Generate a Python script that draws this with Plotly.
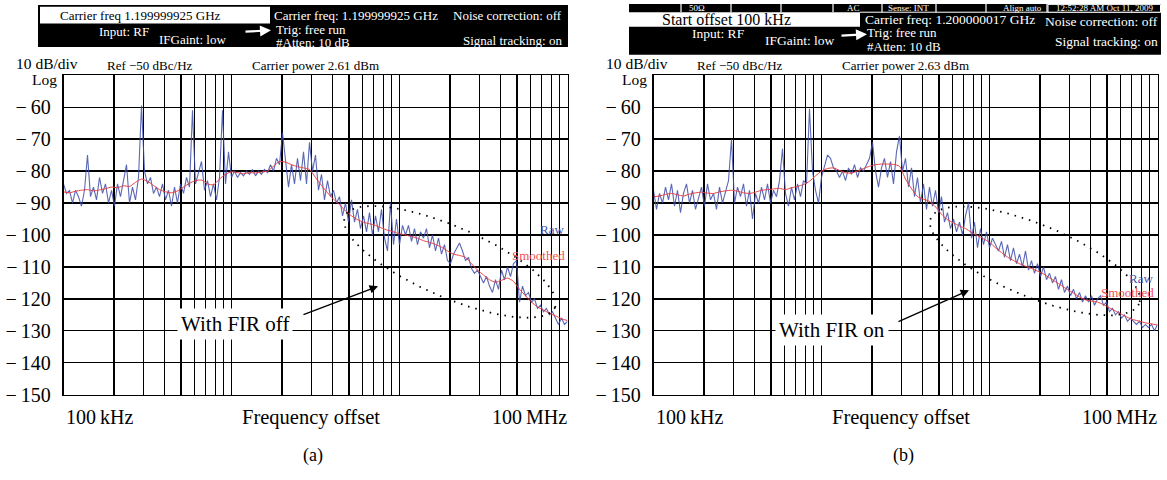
import numpy as np
import plotly.graph_objects as go

W, H = 1167, 480

# ---------------- data ----------------
# Panel (a): FIR off, raw trace (dBc/Hz), log-spaced sweep 100 kHz .. 100 MHz
raw_a = [-84, -87, -86, -90, -86, -88, -91, -86, -75,
         -88, -85, -89, -82, -87, -84, -90, -86,
         -91, -84, -88, -83, -78, -90, -85, -89, -82, -59.5, -80,
         -84, -82, -87, -85, -88, -84, -89, -86, -91, -85, -90, -84, -87, -82, -85,
         -61,
         -84, -80, -77, -86, -83, -88, -84, -89, -82,
         -61,
         -84, -74, -82,
         -80, -82, -80.5, -81.5, -80, -81, -79.5, -81.5, -80, -81, -79.5, -80.5, -78, -80, -76, -78,
         -68,
         -76, -85,
         -78, -84, -76, -83, -74, -84, -71, -80, -75, -86, -81, -89, -83, -88, -86, -90, -88, -94,
         -90, -96, -89, -96, -92, -98,
         -94, -99, -93, -100, -94, -99, -92, -101, -105, -90, -103, -95, -103, -97,
         -100, -97, -102, -98, -103, -99, -101, -98, -104, -100, -105, -101, -106, -103, -108,
         -109, -106, -104, -102.5, -105, -108, -107, -110.5, -112, -111, -113, -115, -113, -116,
         -118, -114, -117, -111, -114, -110, -113, -109, -108, -121, -116, -119, -118, -121,
         -120, -123, -122, -124, -123, -125, -124, -126, -128, -126, -128, -127]

smooth_a = [-86.5, -86.8, -86.3, -86.0, -85.8, -86.2, -85.9, -85.5, -85.0, -85.2,
            -84.6, -84.8, -83.5, -82.5, -83.2, -84.5, -85.8, -86.5, -86.8, -86.2,
            -85.0, -83.8, -83.0, -82.8, -84.0, -84.3, -82.5, -81.0, -80.2, -80.5,
            -80.8, -80.5, -80.6, -80.3, -80.0, -78.5, -77.0, -77.2, -78.0, -78.6,
            -79.0, -79.5, -82.0, -84.5, -86.8, -88.8, -90.5, -92.5, -94.0, -95.2,
            -96.0, -96.5, -97.0, -97.8, -98.5, -99.0, -99.6, -100.0, -100.5, -101.0,
            -101.8, -102.3, -103.0, -103.8, -105.0, -106.0, -106.4, -107.0, -109.0, -111.0,
            -112.5, -114.0, -114.8, -114.2, -113.5, -114.5, -117.0, -119.0, -121.0, -122.5,
            -123.5, -124.5, -125.3, -126.2, -126.8]

# Panel (b): FIR on
raw_b = [-86, -92, -87, -90, -85, -89, -84, -91, -86, -93, -87, -84, -90, -86, -92, -88,
         -85, -91, -84, -89, -87, -92, -85, -90, -86, -83,
         -70,
         -90, -85, -88, -84, -91, -86, -95, -87, -90, -85, -89, -84, -90, -86, -88, -83,
         -73,
         -87, -91, -85, -89, -84, -88, -83,
         -84, -60.5, -80, -86, -90, -82, -78, -75, -76, -79, -80, -82, -80, -83, -79, -81,
         -78, -82, -79, -80, -78, -76, -71, -80, -85, -79, -76, -82,
         -77, -84, -74, -69, -80, -76,
         -85, -79, -88, -82, -90, -84, -92, -85, -91, -86, -93,
         -88, -96, -93, -98, -95, -99, -96, -100, -94,
         -90, -101, -96, -104, -98, -103, -99, -104, -101, -103,
         -105, -102, -107, -103, -108, -104, -109, -106, -110, -105,
         -111, -108, -112, -109, -113, -110, -114, -112, -115, -113, -117, -114, -118, -116,
         -119, -117, -120, -118, -121, -119, -121, -119, -122, -120, -119, -122, -121, -124,
         -123, -125, -124, -126, -125, -127, -126, -127, -128, -127, -129, -128, -129, -128,
         -130, -128]

smooth_b = [-88.0, -87.8, -87.3, -87.0, -87.4, -87.8, -87.2, -86.8, -86.6, -86.9,
            -87.0, -86.5, -86.2, -86.0, -86.3, -86.8, -87.0, -86.6, -86.0, -85.8,
            -85.6, -85.4, -85.8, -85.2, -84.8, -84.2, -83.2, -81.5, -80.0, -79.2,
            -79.0, -79.8, -80.5, -80.6, -80.0, -79.2, -78.5, -78.0, -77.8, -77.8,
            -77.9, -78.5, -82.5, -85.5, -88.0, -88.8, -89.5, -91.2, -93.5, -95.2,
            -96.2, -97.2, -98.0, -99.2, -100.2, -101.2, -102.3, -104.0, -105.5, -106.9,
            -108.0, -109.0, -109.8, -110.5, -111.3, -112.2, -113.4, -114.6, -115.8, -117.1,
            -118.2, -119.4, -120.3, -120.7, -121.0, -121.8, -122.8, -123.8, -124.8, -125.8,
            -126.5, -127.0, -127.5, -127.8, -128.2]

y_ticks = [-150, -140, -130, -120, -110, -100, -90, -80, -70, -60, -50]
y_labels = ["\u2212\u2009" + str(-v) if v != -50 else "" for v in y_ticks]
x_grid = [m * 10 ** e for e in (5, 6, 7) for m in range(1, 10)] + [1e8]

# ---------------- layout helpers ----------------
X0A, X0B, DEC = 63.5, 653.5, 168.0
YTOP, YBOT = 77.0, 404.0
PXDB = (YBOT - YTOP) / 100.0
SERIF = "Liberation Serif, Times New Roman, serif"


def px(x):
    return x / W


def py(y):
    return 1 - y / H


def ellipse(cx, cy, a, b, ang, n=240):
    t = np.linspace(0, 2 * np.pi, n)
    th = np.radians(ang)
    x = cx + a * np.cos(t) * np.cos(th) - b * np.sin(t) * np.sin(th)
    y = cy + a * np.cos(t) * np.sin(th) + b * np.sin(t) * np.cos(th)
    f = 10 ** (5 + (x - X0A) / DEC)
    db = -50 - (y - YTOP) / PXDB
    return f, db


fig = go.Figure()

raw_col = "rgba(62,78,168,0.85)"
sm_col = "rgb(238,60,60)"

for raw, sm, xa, ya, el in [
        (raw_a, smooth_a, "x", "y", (450, 268, 115, 36, 24)),
        (raw_b, smooth_b, "x2", "y2", (445, 267, 113, 37, 23))]:
    fr = np.logspace(5, 8, len(raw))
    fs = np.logspace(5, 8, len(sm))
    fig.add_trace(go.Scatter(x=fr, y=raw, mode="lines", xaxis=xa, yaxis=ya,
                             line=dict(color=raw_col, width=1.1), showlegend=False,
                             hoverinfo="skip"))
    fig.add_trace(go.Scatter(x=fs, y=sm, mode="lines", xaxis=xa, yaxis=ya,
                             line=dict(color=sm_col, width=1.0, shape="spline", smoothing=0.6),
                             showlegend=False, hoverinfo="skip"))
    ef, edb = ellipse(*el)
    fig.add_trace(go.Scatter(x=ef, y=edb, mode="lines", xaxis=xa, yaxis=ya,
                             line=dict(color="black", width=1.8, dash="1.5px,6px"),
                             showlegend=False, hoverinfo="skip"))

xcommon = dict(type="log", range=[5, 8], tickvals=x_grid, ticktext=[""] * len(x_grid),
               showgrid=True, gridcolor="black", gridwidth=1.3, showline=True,
               linecolor="black", linewidth=1.7, mirror=True, ticks="", zeroline=False,
               fixedrange=True)
ycommon = dict(range=[-150, -50], tickvals=y_ticks, ticktext=y_labels,
               showgrid=True, gridcolor="black", gridwidth=1.3, showline=True,
               linecolor="black", linewidth=1.7, mirror=True, ticks="", zeroline=False,
               tickfont=dict(family=SERIF, size=20, color="black"),
               ticklabelstandoff=7, fixedrange=True,
               domain=[py(YBOT), py(YTOP)])

fig.update_layout(
    width=W, height=H, margin=dict(l=0, r=0, t=0, b=0),
    paper_bgcolor="white", plot_bgcolor="white",
    xaxis=dict(xcommon, domain=[px(X0A), px(X0A + 3 * DEC)], anchor="y"),
    yaxis=dict(ycommon, anchor="x"),
    xaxis2=dict(xcommon, domain=[px(X0B), px(X0B + 3 * DEC)], anchor="y2"),
    yaxis2=dict(ycommon, anchor="x2"),
    font=dict(family=SERIF, color="black"),
)

shapes = []
ann = []


def rect(x0, y0, x1, y1, fill, line=None, lw=0):
    shapes.append(dict(type="rect", xref="paper", yref="paper", x0=px(x0), x1=px(x1),
                       y0=py(y1), y1=py(y0), fillcolor=fill,
                       line=dict(color=line or fill, width=lw), layer="above"))


def vline(x, y0, y1, col, w):
    shapes.append(dict(type="line", xref="paper", yref="paper", x0=px(x), x1=px(x),
                       y0=py(y0), y1=py(y1), line=dict(color=col, width=w), layer="above"))


def hline(x0, x1, y, col, w):
    shapes.append(dict(type="line", xref="paper", yref="paper", x0=px(x0), x1=px(x1),
                       y0=py(y), y1=py(y), line=dict(color=col, width=w), layer="above"))


def text(s, x, y, size, col="black", anchor="left", bg=None, pad=0):
    d = dict(text=s, xref="paper", yref="paper", x=px(x), y=py(y), xanchor=anchor,
             yanchor="middle", showarrow=False,
             font=dict(family=SERIF, size=size, color=col))
    if bg:
        d.update(bgcolor=bg, borderpad=pad)
    ann.append(d)


def arrow(x0, y0, x1, y1, col, w, head=2, size=1.0):
    ann.append(dict(text="", xref="paper", yref="paper", x=px(x1), y=py(y1),
                    ax=x0 - x1, ay=y0 - y1, axref="pixel", ayref="pixel",
                    showarrow=True, arrowhead=head, arrowsize=size, arrowwidth=w,
                    arrowcolor=col, standoff=0, startstandoff=0))


# ----- header (a) -----
rect(38, 5, 568, 48, "black")
rect(40, 7, 270, 24, "white")
text("Carrier freq 1.199999925 GHz", 58, 15.5, 13)
text("Carrier freq: 1.199999925 GHz", 272, 15.5, 13, "white")
text("Noise correction: off", 564, 15.5, 13, "white", "right")
text("Input: RF", 124, 32, 13, "white", "center")
text("IFGaint: low", 192, 40, 13, "white", "center")
text("Trig: free run", 274, 30, 13, "white")
text("#Atten: 10 dB", 274, 44, 13, "white")
text("Signal tracking: on", 564, 41, 13, "white", "right")
arrow(244, 32.5, 271, 31, "white", 2.2, head=2, size=1.0)

# ----- header (b) -----
rect(629, 4, 1161, 56, "black")
rect(629, 12.5, 860, 27.5, "white")
for xs in (681, 731, 781, 833, 882, 936, 986, 1047):
    vline(xs, 4, 12.5, "white", 1.2)
hline(860, 1161, 12.5, "white", 1.0)
rect(1048, 4.5, 1160.5, 12.5, "black", "white", 1)
text("50\u03a9", 697, 8.3, 9, "white", "center")
text("AC", 853, 8.3, 9, "white", "center")
text("Sense: INT", 886, 8.3, 9, "white")
text("Align auto", 1044, 8.3, 9, "white", "right")
text("12:52:28 AM Oct 11, 2009", 1104, 8.3, 9, "white", "center")
text("Start offset 100 kHz", 726, 19.5, 16, "black", "center")
text("Carrier freq: 1.200000017 GHz", 863, 20, 13.5, "white")
text("Noise correction: off", 1160, 22, 13.5, "white", "right")
text("Input: RF", 719, 34, 13.5, "white", "center")
text("IFGaint: low", 800, 41, 13.5, "white", "center")
text("Trig: free run", 865, 33.5, 13, "white")
text("#Atten: 10 dB", 865, 47.5, 13, "white")
text("Signal tracking: on", 1160, 42, 13.5, "white", "right")
arrow(840, 36.5, 867, 35, "white", 2.2, head=2, size=1.0)

# ----- panel labels -----
for off, cp, lab in ((0, "Carrier power 2.61 dBm", "(a)"), (590, "Carrier power 2.63 dBm", "(b)")):
    text("10 dB/div", 14 + off, 65, 15.5)
    text("Log", 30 + off, 81, 15.5)
    text("Ref \u221250 dBc/Hz", 105 + off, 67.5, 13)
    text(cp, 250 + off, 67.5, 13)
    text("100\u2009kHz", 64 + off, 427, 20)
    text("Frequency offset", 311 + off, 427, 20.5, anchor="center")
    text("100\u2009MHz", 569 + off, 427, 20, anchor="right")
    text(lab, 313 + off, 466, 18, anchor="center")

# series labels
text("Raw", 566, 235, 13, "rgb(70,85,170)", "right")
text("Smoothed", 567, 261, 13, "rgb(245,80,80)", "right")
text("Raw", 1155, 285, 13, "rgb(70,85,170)", "right")
text("Smoothed", 1156, 299.5, 13, "rgb(245,80,80)", "right")

# FIR annotations
text("With FIR off", 235, 332, 21, "black", "center", bg="white", pad=3)
arrow(302, 322, 378, 293, "black", 1.4, head=2, size=1.2)
text("With FIR on", 832, 338, 21, "black", "center", bg="white", pad=3)
arrow(897, 329, 969, 297, "black", 1.4, head=2, size=1.2)

fig.update_layout(shapes=shapes, annotations=ann)
fig.write_html("out.html", config=dict(displayModeBar=False, staticPlot=True))
